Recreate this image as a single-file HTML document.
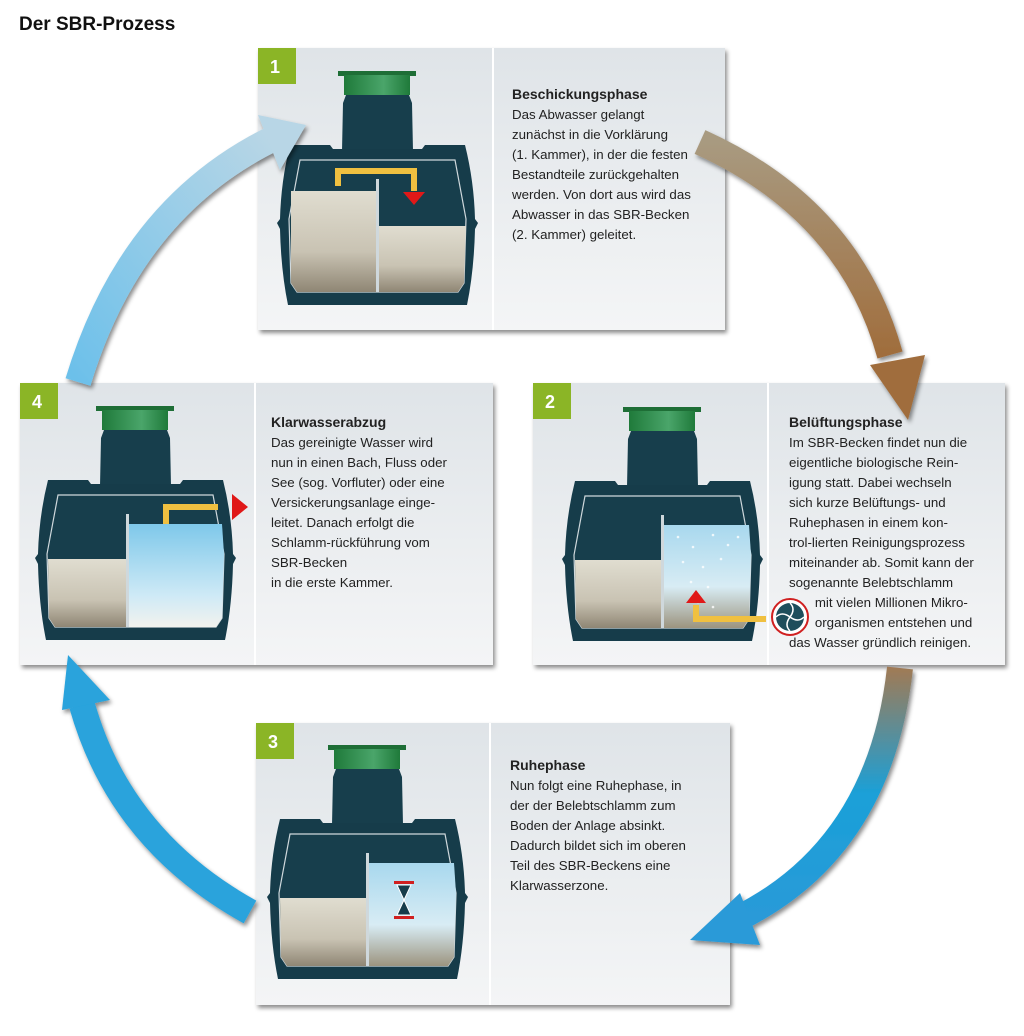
<!DOCTYPE html>
<html><head><meta charset="utf-8"><style>
body{margin:0;width:1024px;height:1036px;background:#fff;position:relative;overflow:hidden;font-family:"Liberation Sans","DejaVu Sans",sans-serif;}
.t{position:absolute;font-size:13.3px;line-height:20px;color:#222;}
.t b{font-size:14px;}
h1{position:absolute;left:19px;top:14px;margin:0;font-size:19px;font-weight:bold;color:#111;}
</style></head><body>
<svg width="1024" height="1036" style="position:absolute;left:0;top:0">
<defs>
<linearGradient id="pg" x1="0" y1="0" x2="0" y2="1"><stop offset="0" stop-color="#dfe4e8"/><stop offset="1" stop-color="#f4f5f6"/></linearGradient>
<linearGradient id="sl" x1="0" y1="0" x2="0" y2="1"><stop offset="0" stop-color="#e0ddd0"/><stop offset="0.6" stop-color="#c9c3b3"/><stop offset="1" stop-color="#8f8674"/></linearGradient>
<linearGradient id="cl" x1="0" y1="0" x2="0" y2="1"><stop offset="0" stop-color="#a8d8ee"/><stop offset="0.6" stop-color="#d8ecf4"/><stop offset="1" stop-color="#9c947f"/></linearGradient>
<linearGradient id="cl4" x1="0" y1="0" x2="0" y2="1"><stop offset="0" stop-color="#7ec8ea"/><stop offset="0.7" stop-color="#cfeaf6"/><stop offset="1" stop-color="#f2f2ee"/></linearGradient>
<linearGradient id="gr" x1="0" y1="0" x2="1" y2="0"><stop offset="0" stop-color="#1f7a3a"/><stop offset="0.6" stop-color="#4aa56a"/><stop offset="1" stop-color="#1f7a3a"/></linearGradient>
<linearGradient id="br" x1="0" y1="0" x2="0" y2="1"><stop offset="0" stop-color="#a89a80"/><stop offset="1" stop-color="#a06d3c"/></linearGradient>
<linearGradient id="bl2" x1="0" y1="0" x2="0" y2="1"><stop offset="0" stop-color="#a07a55"/><stop offset="0.5" stop-color="#1aa0d8"/><stop offset="1" stop-color="#2a9ad8"/></linearGradient>
<linearGradient id="lb" x1="0" y1="1" x2="1" y2="0"><stop offset="0" stop-color="#6cc0ea"/><stop offset="1" stop-color="#b8d6e6"/></linearGradient>
<filter id="sh"><feDropShadow dx="2" dy="3" stdDeviation="2" flood-opacity="0.45"/></filter>
<g id="tank">
 <rect x="60" y="0" width="78" height="5" fill="#1e6e36"/>
 <rect x="66" y="4" width="66" height="20" fill="url(#gr)"/>
 <path d="M68 24 L131 24 L134 32 L135 80 L64 80 L65 32 Z" fill="#173e4c"/>
 <path d="M12 74 L52 74 L55 78 L144 78 L147 74 L187 74 Q196 110 197 148 L200 152 L197 158 Q196 200 189 234 L10 234 Q3 200 2 158 L-1 152 L2 148 Q3 110 12 74 Z" fill="#163c4a"/>
 <path d="M22 89 L177 89 L188 148 L186 212 L180 221 L19 221 L13 212 L11 148 Z" fill="#173e4c" stroke="#cfd8dc" stroke-width="1.2"/>
</g>
</defs>
<g filter="url(#sh)">
<rect x="258" y="48" width="467" height="282" fill="url(#pg)"/>
<rect x="20" y="383" width="473" height="282" fill="url(#pg)"/>
<rect x="533" y="383" width="472" height="282" fill="url(#pg)"/>
<rect x="256" y="723" width="474" height="282" fill="url(#pg)"/>
</g>
<g stroke="#fff" stroke-width="2">
<line x1="493" y1="48" x2="493" y2="330"/><line x1="255" y1="383" x2="255" y2="665"/>
<line x1="768" y1="383" x2="768" y2="665"/><line x1="490" y1="723" x2="490" y2="1005"/>
</g>
<g fill="#8bb526">
<rect x="258" y="48" width="38" height="36"/><rect x="20" y="383" width="38" height="36"/>
<rect x="533" y="383" width="38" height="36"/><rect x="256" y="723" width="38" height="36"/>
</g>
<g fill="#fff" font-size="18" font-weight="bold" font-family="Liberation Sans">
<text x="270" y="73">1</text><text x="32" y="408">4</text><text x="545" y="408">2</text><text x="268" y="748">3</text>
</g>
<g transform="translate(278,71)">
<use href="#tank"/>
<path d="M13 120 L99 120 L99 221 L19 221 L13 212 Z" fill="url(#sl)"/>
<path d="M99 155 L188 155 L186 212 L180 221 L99 221 Z" fill="url(#sl)"/>
<rect x="98" y="108" width="3" height="113" fill="#cfd8dc"/>
<path d="M60 115 V100 H136 V120" fill="none" stroke="#f0c040" stroke-width="6"/>
<polygon points="125,121 147,121 136,134" fill="#e01818"/>
</g>
<g transform="translate(563,407)">
<use href="#tank"/>
<path d="M12 153 L99 153 L99 221 L19 221 L13 212 Z" fill="url(#sl)"/>
<path d="M99 118 L186 118 L188 148 L186 212 L180 221 L99 221 Z" fill="url(#cl)"/>
<rect x="98" y="108" width="3" height="113" fill="#cfd8dc"/>
<g fill="#fff" opacity="0.8"><circle cx="115" cy="130" r="1.3"/><circle cx="130" cy="140" r="1.3"/><circle cx="150" cy="128" r="1.3"/><circle cx="165" cy="138" r="1.3"/><circle cx="120" cy="155" r="1.3"/><circle cx="140" cy="160" r="1.3"/><circle cx="158" cy="152" r="1.3"/><circle cx="128" cy="175" r="1.3"/><circle cx="145" cy="180" r="1.3"/><circle cx="135" cy="195" r="1.3"/><circle cx="150" cy="200" r="1.3"/><circle cx="175" cy="130" r="1.3"/></g>
<polygon points="123,196 143,196 133,183" fill="#e01818"/>
<path d="M133 198 V212 H203" fill="none" stroke="#f0c040" stroke-width="6"/>
<circle cx="227" cy="210" r="18" fill="#fff" stroke="#d02020" stroke-width="2"/>
<circle cx="227" cy="210" r="14" fill="#1e4e5c"/>
<g stroke="#fff" stroke-width="1.5" fill="none"><path d="M227 210 q6 -8 0 -14"/><path d="M227 210 q8 6 14 0"/><path d="M227 210 q-6 8 0 14"/><path d="M227 210 q-8 -6 -14 0"/></g>
</g>
<g transform="translate(36,406)">
<use href="#tank"/>
<path d="M12 153 L92 153 L92 221 L19 221 L13 212 Z" fill="url(#sl)"/>
<path d="M92 118 L186 118 L188 148 L186 212 L180 221 L92 221 Z" fill="url(#cl4)"/>
<rect x="90" y="108" width="3" height="113" fill="#cfd8dc"/>
<path d="M130 118 V101 H182" fill="none" stroke="#f0c040" stroke-width="6"/>
<polygon points="196,88 196,114 212,101" fill="#e01818"/>
</g>
<g transform="translate(268,745)">
<use href="#tank"/>
<path d="M12 153 L99 153 L99 221 L19 221 L13 212 Z" fill="url(#sl)"/>
<path d="M99 118 L186 118 L188 148 L186 212 L180 221 L99 221 Z" fill="url(#cl)"/>
<rect x="98" y="108" width="3" height="113" fill="#cfd8dc"/>
<rect x="126" y="136" width="20" height="3" fill="#d02020"/><rect x="126" y="171" width="20" height="3" fill="#d02020"/>
<path d="M129 140 H143 L136 155 L143 170 H129 L136 155 Z" fill="#163c4a" stroke="#fff" stroke-width="1"/>
</g>
<g filter="url(#sh)">
<path d="M700 142 Q850 210 890 355" fill="none" stroke="url(#br)" stroke-width="26"/>
<polygon points="870,365 925,355 908,420" fill="#a06d3c"/>
<path d="M900 668 Q880 850 735 920" fill="none" stroke="url(#bl2)" stroke-width="26"/>
<polygon points="740,893 760,945 690,940" fill="#2a9ad8"/>
<path d="M250 912 Q120 840 82 705" fill="none" stroke="#29a3dc" stroke-width="26"/>
<polygon points="62,710 110,700 68,655" fill="#29a3dc"/>
<path d="M78 382 Q130 210 270 140" fill="none" stroke="url(#lb)" stroke-width="26"/>
<polygon points="258,115 306,125 280,170" fill="#b8d6e6"/>
</g>
</svg>
<h1>Der SBR-Prozess</h1>
<div class="t" style="left:512px;top:84px;width:210px"><b>Beschickungsphase</b><br>Das Abwasser gelangt<br>zunächst in die Vorklärung<br>(1. Kammer), in der die festen<br>Bestandteile zurückgehalten<br>werden. Von dort aus wird das<br>Abwasser in das SBR-Becken<br>(2. Kammer) geleitet.</div>
<div class="t" style="left:271px;top:412px;width:220px"><b>Klarwasserabzug</b><br>Das gereinigte Wasser wird<br>nun in einen Bach, Fluss oder<br>See (sog. Vorfluter) oder eine<br>Versickerungsanlage einge-<br>leitet. Danach erfolgt die<br>Schlamm-rückführung vom<br>SBR-Becken<br>in die erste Kammer.</div>
<div class="t" style="left:789px;top:412px;width:220px"><b>Belüftungsphase</b><br>Im SBR-Becken findet nun die<br>eigentliche biologische Rein-<br>igung statt. Dabei wechseln<br>sich kurze Belüftungs- und<br>Ruhephasen in einem kon-<br>trol-lierten Reinigungsprozess<br>miteinander ab. Somit kann der<br>sogenannte Belebtschlamm<br>&nbsp;&nbsp;&nbsp;&nbsp;&nbsp;&nbsp;&nbsp;mit vielen Millionen Mikro-<br>&nbsp;&nbsp;&nbsp;&nbsp;&nbsp;&nbsp;&nbsp;organismen entstehen und<br>das Wasser gründlich reinigen.</div>
<div class="t" style="left:510px;top:755px;width:215px"><b>Ruhephase</b><br>Nun folgt eine Ruhephase, in<br>der der Belebtschlamm zum<br>Boden der Anlage absinkt.<br>Dadurch bildet sich im oberen<br>Teil des SBR-Beckens eine<br>Klarwasserzone.</div>
</body></html>
